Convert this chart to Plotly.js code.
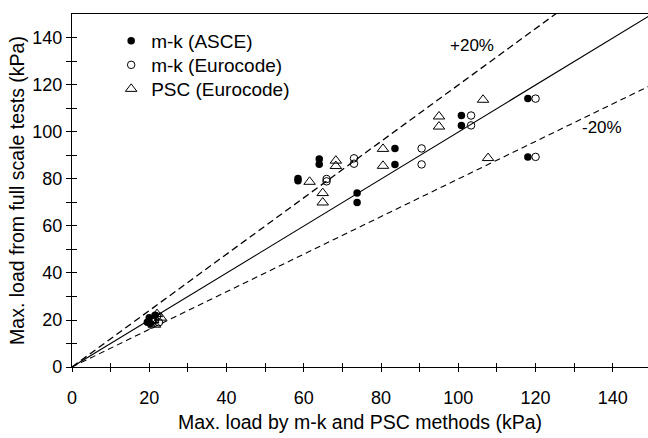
<!DOCTYPE html>
<html>
<head>
<meta charset="utf-8">
<script src="https://cdn.plot.ly/plotly-3.0.1.min.js"></script>
<style>html,body{margin:0;padding:0;background:#fff;}#chart{width:648px;height:438px;}</style>
</head>
<body>
<div id="chart"></div>
<script>
// m-k (ASCE) – filled circles
const asceX = [19.5, 20.0, 20.3, 21.5, 58.5, 58.5, 64.0, 64.0, 73.8, 73.8, 83.6, 83.6, 100.8, 100.8, 118.0, 118.0];
const asceY = [19.0, 21.0, 18.5, 22.0, 80.2, 79.2, 88.5, 86.3, 74.0, 70.0, 93.0, 86.2, 107.0, 102.8, 114.2, 89.4];
// m-k (Eurocode) – open circles
const euroX = [20.5, 21.5, 22.0, 22.5, 65.9, 65.9, 73.0, 73.0, 90.5, 90.5, 103.3, 103.3, 120.0, 120.0];
const euroY = [18.0, 20.0, 21.5, 19.0, 80.0, 79.0, 88.8, 86.5, 93.0, 86.2, 107.0, 102.8, 114.2, 89.4];
// PSC (Eurocode) – open triangles
const pscX = [21.0, 22.0, 23.0, 21.5, 61.5, 64.9, 64.9, 68.3, 68.3, 80.5, 80.5, 95.0, 95.0, 106.4, 107.7];
const pscY = [20.0, 22.5, 21.0, 18.0, 78.8, 74.0, 70.0, 87.8, 85.5, 92.8, 85.6, 106.6, 102.3, 113.7, 88.9];

// reference lines: y = ratio * x
const refX = [0, 150];
const refRatios = [1.0, 1.2, 0.8];
const refLabels = ["", "+20%", "-20%"];

const tickVals = [0,10,20,30,40,50,60,70,80,90,100,110,120,130,140];
const tickText = ["0","","20","","40","","60","","80","","100","","120","","140"];

const FONT = "Liberation Sans, Arial, Helvetica, sans-serif";

const lineStyles = [
  {color:"#000", width:1.1, dash:"solid"},
  {color:"#000", width:1.3, dash:"7px,4px"},
  {color:"#000", width:1.1, dash:"6px,4px"}
];

const traces = [];
refRatios.forEach((r,i)=>{
  traces.push({x: refX, y: refX.map(v=>v*r), mode:"lines", line: lineStyles[i], showlegend:false, hoverinfo:"skip"});
});
traces.push({x: asceX, y: asceY, mode:"markers", name:"m-k (ASCE)", legend:"legend",
  marker:{symbol:"circle", size:7.5, color:"#000"}});
traces.push({x: euroX, y: euroY, mode:"markers", name:"m-k (Eurocode)", legend:"legend2",
  marker:{symbol:"circle-open", size:7.5, color:"#000", line:{width:1}}});
traces.push({x: pscX, y: pscY, mode:"markers", name:"PSC (Eurocode)", legend:"legend3",
  marker:{symbol:"triangle-up-open", size:10, color:"#000", line:{width:1}}});
// overlay axes for inward half of crossing ticks
traces.push({x: [], y: [], xaxis:"x2", yaxis:"y2", showlegend:false, hoverinfo:"skip"});

const xr = [0, 149.1], yr = [0, 150.2];

function leg(yc){
  return {x: 0.068, y: yc, xanchor:"left", yanchor:"middle", bgcolor:"rgba(0,0,0,0)",
    font:{family: FONT, size: 19, color:"#000"}};
}

const layout = {
  width: 648, height: 438,
  margin: {l: 72, r: 0, t: 14, b: 71, pad: 0},
  paper_bgcolor: "#fff", plot_bgcolor: "#fff",
  font: {family: FONT, color: "#000", size: 18},
  showlegend: true,
  legend: leg(0.9235),
  legend2: leg(0.8555),
  legend3: leg(0.7875),
  xaxis: {range: xr, showline: true, linecolor:"#000", linewidth:1.2, mirror: true,
    showgrid:false, zeroline:false, ticks:"outside", ticklen:4, tickwidth:1, tickcolor:"#000",
    tickmode:"array", tickvals: tickVals, ticktext: tickText, tickfont:{size:18}, ticklabelstandoff: 10,
    title:{text:"Max. load by m-k and PSC methods (kPa)", font:{size:19.5}, standoff: 8}},
  yaxis: {range: yr, showline: true, linecolor:"#000", linewidth:1.2,
    showgrid:false, zeroline:false, ticks:"outside", ticklen:5, tickwidth:1, tickcolor:"#000",
    tickmode:"array", tickvals: tickVals, ticktext: tickText, tickfont:{size:18},
    title:{text:"Max. load from full scale tests (kPa)", font:{size:19.5}, standoff: 2}},
  xaxis2: {range: xr, overlaying:"x", anchor:"y2", side:"bottom", showline:false, showgrid:false, zeroline:false,
    ticks:"inside", ticklen:4, tickwidth:1, tickcolor:"#000", tickmode:"array", tickvals: tickVals, showticklabels:false},
  yaxis2: {range: yr, overlaying:"y", anchor:"x2", side:"left", showline:false, showgrid:false, zeroline:false,
    ticks:"inside", ticklen:5, tickwidth:1, tickcolor:"#000", tickmode:"array", tickvals: tickVals, showticklabels:false},
  annotations: [
    {x: 103.5, y: 137, xref:"x", yref:"y", text: refLabels[1], showarrow:false, font:{size:17, family:FONT}},
    {x: 137.2, y: 101.7, xref:"x", yref:"y", text: refLabels[2], showarrow:false, font:{size:17, family:FONT}}
  ]
};

Plotly.newPlot("chart", traces, layout, {staticPlot:true, displayModeBar:false});
</script>
</body>
</html>
